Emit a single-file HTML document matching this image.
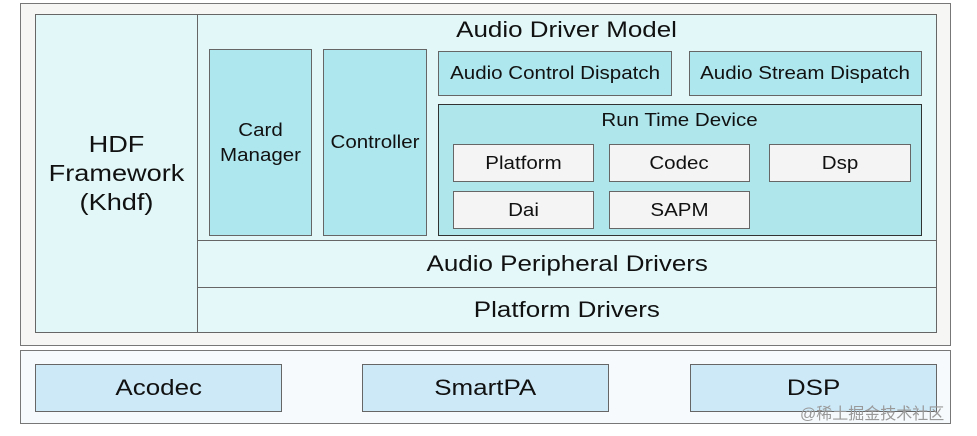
<!DOCTYPE html>
<html><head><meta charset="utf-8"><style>
body{margin:0;width:977px;height:436px;background:#fff;position:relative;overflow:hidden;font-family:"Liberation Sans","Noto Sans CJK SC",sans-serif;color:#111}
.b{position:absolute;box-sizing:border-box;border:1.5px solid #666;display:flex;align-items:center;justify-content:center;text-align:center}
.s{display:inline-block;transform:scaleX(1.14);font-size:18px}
.L{display:inline-block;transform:scaleX(1.18);font-size:22px}
</style></head><body>
<div class="b" style="left:20px;top:3px;width:931px;height:343px;background:#f6f6f4;border-color:#777"></div>
<div class="b" style="left:35px;top:14px;width:902px;height:319px;background:#e2f7f8"></div>
<div class="b" style="left:35px;top:14px;width:163px;height:319px;background:#e2f7f8;line-height:29px"><span class="L" style="font-size:23px">HDF<br>Framework<br>(Khdf)</span></div>
<div style="position:absolute;left:197px;top:17px;width:740px;text-align:center"><span class="L">Audio Driver Model</span></div>
<div class="b" style="left:209px;top:49px;width:103px;height:187px;background:#afe7ee;line-height:25px"><span class="s">Card<br>Manager</span></div>
<div class="b" style="left:323px;top:49px;width:104px;height:187px;background:#afe7ee"><span class="s">Controller</span></div>
<div class="b" style="left:438px;top:51px;width:234px;height:45px;background:#afe7ee"><span class="s">Audio Control Dispatch</span></div>
<div class="b" style="left:689px;top:51px;width:233px;height:45px;background:#afe7ee"><span class="s">Audio Stream Dispatch</span></div>
<div class="b" style="left:438px;top:104px;width:484px;height:132px;background:#aee6ec;border-color:#333;align-items:flex-start;padding-top:5px"><span class="s">Run Time Device</span></div>
<div class="b" style="left:453px;top:144px;width:141px;height:38px;background:#f4f4f4"><span class="s">Platform</span></div>
<div class="b" style="left:609px;top:144px;width:141px;height:38px;background:#f4f4f4"><span class="s">Codec</span></div>
<div class="b" style="left:769px;top:144px;width:142px;height:38px;background:#f4f4f4"><span class="s">Dsp</span></div>
<div class="b" style="left:453px;top:191px;width:141px;height:38px;background:#f4f4f4"><span class="s">Dai</span></div>
<div class="b" style="left:609px;top:191px;width:141px;height:38px;background:#f4f4f4"><span class="s">SAPM</span></div>
<div class="b" style="left:197px;top:240px;width:740px;height:48px;background:#e4f8fa"><span class="L">Audio Peripheral Drivers</span></div>
<div class="b" style="left:197px;top:287px;width:740px;height:46px;background:#e4f8fa"><span class="L">Platform Drivers</span></div>
<div class="b" style="left:20px;top:350px;width:931px;height:74px;background:#f6fafc;border-color:#777"></div>
<div class="b" style="left:35px;top:364px;width:247px;height:48px;background:#cde9f8"><span class="L">Acodec</span></div>
<div class="b" style="left:362px;top:364px;width:247px;height:48px;background:#cde9f8"><span class="L">SmartPA</span></div>
<div class="b" style="left:690px;top:364px;width:247px;height:48px;background:#cde9f8"><span class="L">DSP</span></div>
<div style="position:absolute;left:800px;top:400px;font-size:16px;color:#999">@稀土掘金技术社区</div>
</body></html>
